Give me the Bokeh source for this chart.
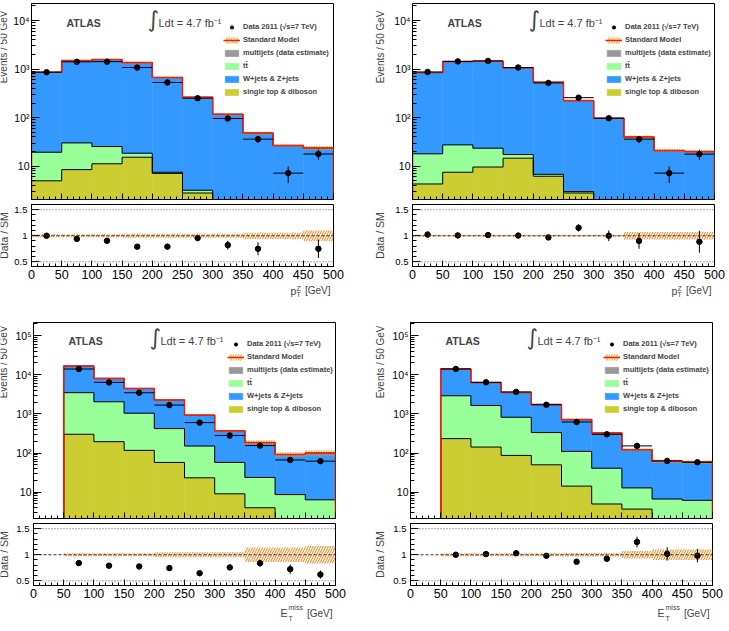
import numpy as np
from bokeh.plotting import figure
from bokeh.layouts import column, row
from bokeh.models import (Range1d, FixedTicker, SingleIntervalTicker, CustomJSTickFormatter,
                          Label, Legend, LegendItem, Span)
from bokeh.embed import file_html
from bokeh.resources import INLINE

# ---------------- data ----------------
edges_pt = [0, 50, 100, 150, 200, 250, 300, 350, 400, 450, 500]
edges_met = [50, 100, 150, 200, 250, 300, 350, 400, 450, 500]

# top-left : pT(Z)
tl_single_top = [5.0, 8.5, 11.2, 15.3, 7.1, 2.8, 1.0, 0.5, 0.3, 0.3]
tl_ttbar = [14.4, 21.7, 14.2, 3.2, 0.4, 0.4, 0.2, 0.1, 0.05, 0.05]
tl_wzjets = [839, 1467, 1543, 1340, 662, 259, 115.6, 47.3, 26.1, 23.3]
tl_multijet = [1.6, 2.8, 1.6, 1.5, 0.5, 0.4, 0.2, 0.1, 0.15, 0.1]
tl_sm_relerr = [0.03, 0.03, 0.03, 0.04, 0.04, 0.04, 0.04, 0.06, 0.06, 0.1]
tl_data = [860, 1410, 1420, 1075, 530, 251, 96, 36, 7.2, 17.8]
tl_data_err = [29, 38, 38, 33, 23, 16, 10, 6, 2.7, 4.2]

# top-right : pT(Z)
tr_single_top = [4.3, 7.5, 9.6, 14.6, 6.2, 2.8, 1.0, 0.5, 0.3, 0.3]
tr_ttbar = [13.7, 20.0, 13.9, 2.8, 0.6, 0.2, 0.2, 0.1, 0.05, 0.05]
tr_wzjets = [831, 1400, 1424, 1052, 528, 221, 95.6, 39.3, 20.5, 19.5]
tr_multijet = [1.0, 2.5, 2.5, 0.6, 0.2, 0.0, 0.2, 0.1, 0.15, 0.15]
tr_sm_relerr = [0.02, 0.02, 0.02, 0.02, 0.02, 0.02, 0.02, 0.07, 0.07, 0.07]
tr_data = [870, 1440, 1470, 1075, 518, 258, 97, 36, 7.2, 17.7]
tr_data_err = [29, 38, 38, 33, 23, 16, 10, 6, 2.7, 4.2]

# bottom-left : ETmiss
bl_single_top = [301, 195, 117, 57.5, 23.3, 9.1, 4.0, 1.5, 1.2]
bl_ttbar = [3179, 1845, 923, 363.5, 127.7, 48.4, 19.8, 7.2, 5.2]
bl_wzjets = [13100, 6000, 3415, 1826, 773, 312, 161, 83.1, 93.4]
bl_multijet = [20, 10, 5, 3, 1, 0.5, 0.3, 0.2, 0.2]
bl_sm_relerr = [0.03, 0.03, 0.03, 0.05, 0.05, 0.05, 0.14, 0.14, 0.17]
bl_data = [13950, 6360, 3460, 1675, 598, 280, 155, 66.6, 62]
bl_data_err = [118, 80, 59, 41, 24, 17, 12.5, 8.2, 7.9]

# bottom-right : ETmiss
br_single_top = [233, 142, 87, 50, 14.3, 5.0, 3.7, 1.5, 1.2]
br_ttbar = [2667, 1488, 733, 283, 95.7, 36, 9.2, 5.2, 5.0]
br_wzjets = [11085, 4662, 2696, 1405, 605, 283.5, 108.8, 55.1, 52.6]
br_multijet = [15, 8, 4, 2, 1, 0.5, 0.3, 0.2, 0.2]
br_sm_relerr = [0.03, 0.03, 0.03, 0.03, 0.035, 0.035, 0.07, 0.1, 0.1]
br_data = [14000, 6380, 3625, 1705, 620, 300, 152, 63, 58]
br_data_err = [118, 80, 60, 41, 25, 17, 12.3, 8, 7.6]

ticks_top = [10, 100, 1000, 10000]
ticks_bottom = [10, 100, 1000, 10000, 100000]

legend_labels = ["Data 2011 (\u221as=7 TeV)", "Standard Model", "multijets (data estimate)",
                 "tt\u0304", "W+jets & Z+jets", "single top & diboson"]

# ---------------- style ----------------
FONT = "Liberation Sans"
C_ST, C_TT, C_WZ, C_MJ = "#CCCC33", "#99FF99", "#3399FF", "#999999"
FH = 196   # main frame height
RH = 62    # ratio frame height
RB = 18    # ratio bottom border (tick labels)
FW = 302

log_fmt = CustomJSTickFormatter(code="""
const e = Math.round(Math.log10(tick));
const s = {2:'\u00b2', 3:'\u00b3', 4:'\u2074', 5:'\u2075'};
return e == 1 ? '10' : '10' + (s[e] || e);
""")
ratio_fmt = CustomJSTickFormatter(code="return String(Math.round(tick*10)/10);")
blank_fmt = CustomJSTickFormatter(code="return '';")
minor_log = [m * 10.0 ** k for k in range(0, 6) for m in range(2, 10)]


def step_xy(edges, vals, floor):
    xs, ys = [edges[0]], [floor]
    for i, v in enumerate(vals):
        xs += [edges[i], edges[i + 1]]
        ys += [v, v]
    xs.append(edges[-1]); ys.append(floor)
    return xs, ys


def base_style(f):
    f.xgrid.visible = False
    f.ygrid.visible = False
    f.outline_line_color = "black"
    f.outline_line_alpha = 1
    f.outline_line_width = 1
    f.background_fill_color = "white"
    f.border_fill_color = "white"
    for ax in f.axis:
        ax.major_tick_out = 0
        ax.minor_tick_out = 0
        ax.axis_line_color = "black"
        ax.major_tick_line_color = "black"
        ax.minor_tick_line_color = "black"
        ax.major_label_text_font = FONT
        ax.major_label_text_color = "black"


def blank_fig(w, h):
    f = figure(width=w, height=h, x_range=Range1d(0, 1), y_range=Range1d(0, 1),
               x_axis_location=None, y_axis_location=None, output_backend="svg",
               toolbar_location=None, title=None, min_border_left=0, min_border_right=0,
               min_border_top=0, min_border_bottom=0)
    f.xgrid.visible = False
    f.ygrid.visible = False
    f.outline_line_color = None
    f.background_fill_color = "white"
    f.border_fill_color = "white"
    return f


def make_panel(edges, st, tt, wz, mj, relerr, data, derr, ylim, yticks, var, g):
    edges = np.array(edges, float)
    lo, hi = edges[:-1], edges[1:]
    xc = 0.5 * (lo + hi)
    c1 = np.array(st, float)
    c2 = c1 + np.array(tt, float)
    c3 = c2 + np.array(wz, float)
    c4 = c3 + np.array(mj, float)
    err = np.array(relerr, float)
    d = np.array(data, float)
    de = np.array(derr, float)
    floor = 1e-2
    W = g["bl"] + FW + g["br"]

    p = figure(width=W, height=FH + 8, x_range=Range1d(0, 500), y_range=Range1d(*ylim),
               y_axis_type="log", output_backend="svg", toolbar_location=None, title=None,
               min_border_left=g["bl"], min_border_right=g["br"], min_border_top=3, min_border_bottom=5)
    r_st = p.quad(left=lo, right=hi, bottom=floor, top=c1, fill_color=C_ST, line_color=C_ST, line_width=0.5)
    r_tt = p.quad(left=lo, right=hi, bottom=c1, top=c2, fill_color=C_TT, line_color=C_TT, line_width=0.5)
    r_wz = p.quad(left=lo, right=hi, bottom=c2, top=c3, fill_color=C_WZ, line_color=C_WZ, line_width=0.5)
    r_mj = p.quad(left=lo, right=hi, bottom=c3, top=c4, fill_color=C_MJ, line_color=C_MJ, line_width=0.5)
    for c in (c1, c2, c3):
        xs, ys = step_xy(edges, c, floor)
        p.line(xs, ys, line_color="black", line_width=1)
    r_band = p.quad(left=lo, right=hi, bottom=c4 * (1 - err), top=c4 * (1 + err), fill_alpha=0,
                    line_alpha=0, hatch_pattern="/", hatch_color="#FF9900", hatch_scale=5, hatch_weight=1)
    xs, ys = step_xy(edges, c4, floor)
    r_sm = p.line(xs, ys, line_color="#FF1A00", line_width=1.5)
    p.segment(x0=xc, y0=d - de, x1=xc, y1=d + de, line_color="black", line_width=1)
    p.segment(x0=lo, y0=d, x1=hi, y1=d, line_color="black", line_width=1)
    r_data = p.scatter(xc, d, size=5.5, color="black")

    base_style(p)
    p.xaxis.ticker = SingleIntervalTicker(interval=50, num_minor_ticks=5)
    p.xaxis.formatter = blank_fmt
    p.xaxis.major_tick_in = 6
    p.xaxis.minor_tick_in = 3
    p.xaxis.major_label_text_font_size = "1px"
    p.xaxis.major_label_standoff = 0
    p.yaxis.ticker = FixedTicker(ticks=yticks, minor_ticks=minor_log)
    p.yaxis.formatter = log_fmt
    p.yaxis.major_tick_in = 8
    p.yaxis.minor_tick_in = 4
    p.yaxis.major_label_text_font_size = "10.5px"
    p.yaxis.major_label_standoff = 2

    items = [LegendItem(label=legend_labels[0], renderers=[r_data]),
             LegendItem(label=legend_labels[1], renderers=[r_band, r_sm]),
             LegendItem(label=legend_labels[2], renderers=[r_mj]),
             LegendItem(label=legend_labels[3], renderers=[r_tt]),
             LegendItem(label=legend_labels[4], renderers=[r_wz]),
             LegendItem(label=legend_labels[5], renderers=[r_st])]
    leg = Legend(items=items, location=(g["lx"], g["ly"]), orientation="vertical",
                 glyph_width=17, glyph_height=8, label_height=9, label_standoff=3, spacing=4,
                 padding=0, margin=0, border_line_alpha=0, background_fill_alpha=0,
                 label_text_font=FONT, label_text_font_size="7.5px", label_text_font_style="bold")
    p.add_layout(leg)

    ty = FH - g["ty"]
    p.add_layout(Label(x=35, y=ty, x_units="screen", y_units="screen", text="ATLAS",
                       text_font=FONT, text_font_size="10.5px", text_font_style="bold",
                       text_baseline="middle"))
    p.add_layout(Label(x=116, y=ty + 3, x_units="screen", y_units="screen", text="\u222b",
                       text_font="DejaVu Sans", text_font_size="22px", text_baseline="middle"))
    p.add_layout(Label(x=127, y=ty, x_units="screen", y_units="screen", text="Ldt = 4.7 fb\u207b\u00b9",
                       text_font=FONT, text_font_size="11px", text_baseline="middle"))

    # ratio
    rr = figure(width=W, height=RH + RB, x_range=p.x_range, y_range=Range1d(0.41, 1.6),
                output_backend="svg", toolbar_location=None, title=None,
                min_border_left=g["bl"], min_border_right=g["br"], min_border_top=0,
                min_border_bottom=RB)
    rr.quad(left=lo, right=hi, bottom=1 - err, top=1 + err, fill_alpha=0, line_alpha=0,
            hatch_pattern="/", hatch_color="#FF7700", hatch_scale=5, hatch_weight=1)
    rr.add_layout(Span(location=1, dimension="width", line_color="#333333", line_dash="3 2", line_width=1))
    rr.add_layout(Span(location=0.5, dimension="width", line_color="#555555", line_dash="1 2", line_width=1))
    rr.add_layout(Span(location=1.5, dimension="width", line_color="#555555", line_dash="1 2", line_width=1))
    ratio = d / c4
    rerr = de / c4
    m = (ratio > 0.41) & (ratio < 1.6)
    rr.segment(x0=xc[m], y0=(ratio - rerr)[m], x1=xc[m], y1=(ratio + rerr)[m], line_color="black", line_width=1)
    rr.scatter(xc[m], ratio[m], size=5.5, color="black")

    base_style(rr)
    rr.xaxis.ticker = SingleIntervalTicker(interval=50, num_minor_ticks=5)
    rr.xaxis.major_tick_in = 6
    rr.xaxis.minor_tick_in = 3
    rr.xaxis.major_label_text_font_size = "12.5px"
    rr.xaxis.major_label_standoff = 3
    rr.yaxis.ticker = SingleIntervalTicker(interval=0.5, num_minor_ticks=5)
    rr.yaxis.formatter = ratio_fmt
    rr.yaxis.major_tick_in = 8
    rr.yaxis.minor_tick_in = 4
    rr.yaxis.major_label_text_font_size = "9.5px"
    rr.yaxis.major_label_standoff = 4

    # x-axis title strip (its frame lines up with the plot frames above)
    xh = g["xh"]
    xs_fig = blank_fig(W, xh)
    if var == "pt":
        parts = [("p", FW - 43, xh - 6, "10.5px", "left"),
                 ("Z", FW - 37, xh - 4, "7px", "left"),
                 ("T", FW - 37, xh - 9.5, "7px", "left"),
                 ("[GeV]", FW - 3, xh - 6, "10px", "right")]
    else:
        parts = [("E", FW - 55, xh - 9.5, "10.5px", "left"),
                 ("miss", FW - 47, xh - 4, "7px", "left"),
                 ("T", FW - 47, xh - 14.5, "7px", "left"),
                 ("[GeV]", FW - 3, xh - 9.5, "10px", "right")]
    for t, x, y, fs, al in parts:
        xs_fig.add_layout(Label(x=x, y=y, x_units="screen", y_units="screen", text=t, text_font=FONT,
                                text_font_size=fs, text_align=al, text_baseline="middle"))

    # y-axis title strip
    H = FH + 8 + RH + RB + xh
    ys_fig = blank_fig(g["yw"], H)
    ys_fig.add_layout(Label(x=g["yx"], y=H - g["ev_top"], x_units="screen", y_units="screen",
                            text="Events / 50 GeV", angle=np.pi / 2, text_align="right",
                            text_baseline="middle", text_font=FONT, text_font_size="10px"))
    ys_fig.add_layout(Label(x=g["yx"], y=H - g["ds_mid"], x_units="screen", y_units="screen",
                            text="Data / SM", angle=np.pi / 2, text_align="center",
                            text_baseline="middle", text_font=FONT, text_font_size="10.5px"))
    return row(ys_fig, column(p, rr, xs_fig))


g_tl = dict(yw=10, yx=3, bl=21, br=32, xh=35, lx=192, ly=103, ty=19, ev_top=10, ds_mid=235)
g_tr = dict(yw=22, yx=14.5, bl=25, br=15, xh=35, lx=193, ly=103, ty=19, ev_top=10, ds_mid=235)
g_bl = dict(yw=10, yx=3, bl=23, br=30, xh=28, lx=194, ly=105, ty=18, ev_top=6, ds_mid=235)
g_br = dict(yw=22, yx=14.5, bl=23, br=17, xh=28, lx=193, ly=105, ty=18, ev_top=6, ds_mid=235)

ylim_top = (2.06, 22400)
ylim_bot = (2.13, 215000)

tl = make_panel(edges_pt, tl_single_top, tl_ttbar, tl_wzjets, tl_multijet, tl_sm_relerr,
                tl_data, tl_data_err, ylim_top, ticks_top, "pt", g_tl)
tr = make_panel(edges_pt, tr_single_top, tr_ttbar, tr_wzjets, tr_multijet, tr_sm_relerr,
                tr_data, tr_data_err, ylim_top, ticks_top, "pt", g_tr)
bl = make_panel(edges_met, bl_single_top, bl_ttbar, bl_wzjets, bl_multijet, bl_sm_relerr,
                bl_data, bl_data_err, ylim_bot, ticks_bottom, "met", g_bl)
br = make_panel(edges_met, br_single_top, br_ttbar, br_wzjets, br_multijet, br_sm_relerr,
                br_data, br_data_err, ylim_bot, ticks_bottom, "met", g_br)

layout = column(row(tl, tr), row(bl, br))
open("out.html", "w").write(file_html(layout, INLINE, title="ATLAS"))
